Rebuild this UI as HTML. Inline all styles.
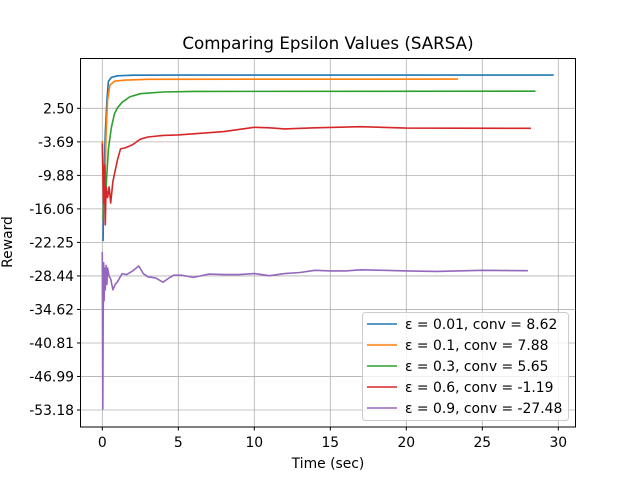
<!DOCTYPE html>
<html><head><meta charset="utf-8"><style>
body{margin:0;background:#fff;font-family:"Liberation Sans","DejaVu Sans",sans-serif;}
svg text{font-family:"DejaVu Sans","Liberation Sans",sans-serif;}
</style></head><body>
<svg id="chart" width="640" height="480" xmlns="http://www.w3.org/2000/svg">
<rect width="640" height="480" fill="#fff"/>
<text x="328" y="49" font-size="16.7" text-anchor="middle">Comparing Epsilon Values (SARSA)</text>
<g id="grid"></g><g id="series"></g>
<rect x="80.5" y="58.5" width="495" height="368.5" fill="none" stroke="#000" stroke-width="1"/>
<g id="ticks"></g>
<text x="328" y="468" font-size="13.9" text-anchor="middle">Time (sec)</text>
<text transform="translate(12,242) rotate(-90)" font-size="13.9" text-anchor="middle">Reward</text>
<g id="legend"></g>
</svg>
<script>
const xTicks=[0,5,10,15,20,25,30];
const yTicks=[2.50,-3.69,-9.88,-16.06,-22.25,-28.44,-34.62,-40.81,-46.99,-53.18];
const labels=["ε = 0.01, conv = 8.62","ε = 0.1, conv = 7.88","ε = 0.3, conv = 5.65","ε = 0.6, conv = -1.19","ε = 0.9, conv = -27.48"];
const colors=["#1f77b4","#ff7f0e","#2ca02c","#d62728","#9467bd"];
const t1=[0.05,0.1,0.2,0.3,0.4,0.6,1,2,5,29.7];
const v1=[-22,-12,-2,4,7.5,8.2,8.5,8.6,8.62,8.62];
const t2=[0,0.05,0.15,0.25,0.35,0.5,0.8,1.5,3,23.4];
const v2=[-3.5,-10,-14,-2,4,6.8,7.5,7.7,7.85,7.88];
const t3=[0.05,0.15,0.25,0.4,0.6,0.8,1.0,1.3,1.8,2.5,4,6,28.5];
const v3=[-18,-8,-12,-5,-1,1.5,2.6,3.6,4.6,5.2,5.5,5.62,5.65];
const t4=[0,0.08,0.15,0.2,0.25,0.35,0.45,0.55,0.7,0.85,1.0,1.2,1.5,2.0,2.5,3.0,4,5,7,8,9,10,11,12,14,17,20,28.2];
const v4=[-4,-15,-8,-19,-12,-14,-12,-15,-11,-9,-7,-5,-4.8,-4.2,-3.2,-2.8,-2.5,-2.4,-2.0,-1.8,-1.4,-1.0,-1.1,-1.3,-1.1,-0.9,-1.15,-1.19];
const t5=[0,0.03,0.06,0.09,0.12,0.15,0.2,0.25,0.3,0.35,0.45,0.55,0.7,0.85,1.0,1.3,1.6,2.0,2.4,2.7,3.0,3.5,4.0,4.4,4.7,5.2,6.0,7.0,8.0,9.0,10.0,11.0,12.0,13.0,14.0,15.0,16.0,17.0,18.5,20,22,25,28];
const v5=[-24,-53,-36,-26,-33,-27,-31,-26.5,-30,-27,-28.5,-29,-31,-30,-29.5,-28,-28.2,-27.5,-26.6,-28,-28.6,-28.8,-29.6,-28.8,-28.3,-28.3,-28.7,-28.1,-28.2,-28.2,-28.0,-28.4,-28.0,-27.8,-27.4,-27.5,-27.5,-27.3,-27.4,-27.5,-27.6,-27.4,-27.48];
const T=[t1,t2,t3,t4,t5],V=[v1,v2,v3,v4,v5];
const X=t=>102.3+t*15.2;
const Y=v=>108.3+(2.5-v)*(301.7/55.68);
const NS="http://www.w3.org/2000/svg";
function mk(tag,attrs,parent){const e=document.createElementNS(NS,tag);for(const k in attrs)e.setAttribute(k,attrs[k]);document.getElementById(parent).appendChild(e);return e;}
xTicks.forEach(t=>{
 const g=mk("line",{x1:X(t),x2:X(t),y1:58.5,y2:427,stroke:"#b0b0b0","stroke-width":0.8},"grid");
 
 
 const tk=mk("line",{x1:X(t),x2:X(t),y1:427,y2:430.5,stroke:"#000"},"ticks");
 
 
 const tx=mk("text",{x:X(t),y:447,"font-size":13.9,"text-anchor":"middle"},"ticks");tx.textContent=t;
 
 
});
yTicks.forEach(v=>{
 const g=mk("line",{x1:80.5,x2:575.5,y1:Y(v),y2:Y(v),stroke:"#b0b0b0","stroke-width":0.8},"grid");
 
 
 const tk=mk("line",{x1:77,x2:80.5,y1:Y(v),y2:Y(v),stroke:"#000"},"ticks");
 
 
 const tx=mk("text",{x:74,y:Y(v)+5,"font-size":13.9,"text-anchor":"end"},"ticks");tx.textContent=v.toFixed(2);
 
 
});
T.forEach((ts,i)=>{
 const d=ts.map((t,j)=>(j?"L":"M")+X(t).toFixed(1)+","+Y(V[i][j]).toFixed(1)).join("");
 const p=mk("path",{d:d,fill:"none",stroke:colors[i],"stroke-width":1.6,"stroke-linejoin":"round"},"series");
 
 
});
const lb=mk("rect",{x:362.5,y:312.5,width:206,height:108,rx:3,fill:"#fff","fill-opacity":0.8,stroke:"#ccc"},"legend");


labels.forEach((l,i)=>{
 const y=324+i*21;
 const ln=mk("line",{x1:367,x2:397,y1:y,y2:y,stroke:colors[i],"stroke-width":1.6},"legend");
 
 
 const tx=mk("text",{x:405,y:y+5,"font-size":13.9},"legend");tx.textContent=l;
 
 
});
</script>
</body></html>
